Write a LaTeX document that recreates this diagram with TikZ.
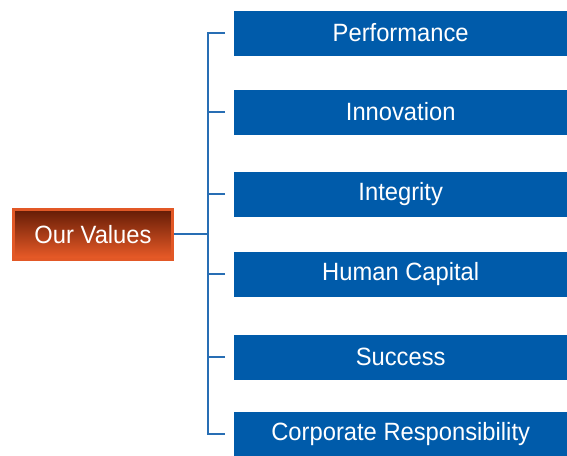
\documentclass[tikz,border=0pt]{standalone}
\usepackage{fontspec}
\setmainfont[FakeStretch=0.95]{Liberation Sans}
\usepackage{tikz}
\usetikzlibrary{arrows,positioning}
\definecolor{val_blue}{RGB}{0,91,170}
\definecolor{link_blue}{RGB}{40,110,180}
\definecolor{root_top}{RGB}{100,28,6}
\definecolor{root_bot}{RGB}{236,92,40}
\definecolor{root_edge}{RGB}{226,88,38}

\begin{document}
\begin{tikzpicture}[x=1pt,y=-1pt]
    \tikzstyle{link}=[draw=link_blue,line width=1.4pt]
    \tikzstyle{value}=[anchor=west, fill=val_blue, text=white, minimum width=333pt,
                       minimum height=45pt, inner sep=0pt, font=\fontsize{25}{27}\selectfont]
    \tikzstyle{root}=[top color=root_top, bottom color=root_bot, draw=root_edge, line width=3pt,
                      text=white, minimum width=159pt, minimum height=50pt, inner sep=0pt,
                      font=\fontsize{25}{27}\selectfont]

    \useasboundingbox (0,0) rectangle (567,455);

    \node[root]  (R) at (93,234.5) {Our Values};

    \node[value] (V1) at (234,33)  {Performance};
    \node[value] (V2) at (234,112) {Innovation};
    \node[value] (V3) at (234,194) {Integrity};
    \node[value] (V4) at (234,274) {Human Capital};
    \node[value] (V5) at (234,357) {Success};
    \node[value] (V6) at (234,434) {Corporate Responsibility};

    % free ends of the bracket ticks
    \coordinate (T1) at (225,33);
    \coordinate (T2) at (225,112);
    \coordinate (T3) at (225,194);
    \coordinate (T4) at (225,274);
    \coordinate (T5) at (225,357);
    \coordinate (T6) at (225,434);
    \coordinate (S)  at (208,234);

    \path[link] (T1) -- (T1 -| S) -- (T6 -| S) -- (T6);
    \foreach \t in {T2,T3,T4,T5}
      \path[link] (\t) -- (\t -| S);
    \path[link] (R.east |- S) -- (S);
\end{tikzpicture}
\end{document}
